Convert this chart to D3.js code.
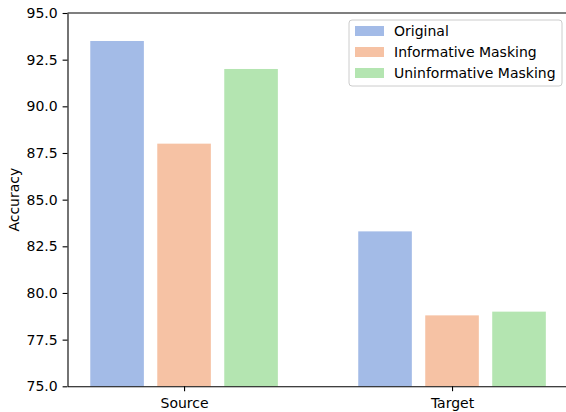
<!DOCTYPE html>
<html>
<head>
<meta charset="utf-8">
<script src="https://cdn.jsdelivr.net/npm/d3@7/dist/d3.min.js"></script>
<style>
  html, body { margin: 0; padding: 0; background: #fff; }
  svg { display: block; font-family: "DejaVu Sans", sans-serif; }
</style>
</head>
<body>
<svg id="chart" width="566" height="412"></svg>
<script>
// Accuracy per domain for each input variant
const domains = ["Source", "Target"];
const seriesNames = ["Original", "Informative Masking", "Uninformative Masking"];
const original = [93.5, 83.3];
const informativeMasking = [88.0, 78.8];
const uninformativeMasking = [92.0, 79.0];
const yTicks = [75.0, 77.5, 80.0, 82.5, 85.0, 87.5, 90.0, 92.5, 95.0];
const colors = ["#4878d0", "#ee854a", "#6acc64"];

const seriesValues = [original, informativeMasking, uninformativeMasking];

const svg = d3.select("#chart");
const margin = { left: 67.5, top: 13, bottom: 386.3 };
const fontSize = 14;

// Bars sit at group index + offset, width 0.2, spacing 0.25
const barWidth = 0.2;
const offsets = [-0.25, 0, 0.25];
const x = d3.scaleLinear().domain([-0.435, 1.435]).range([margin.left, 568.6]);
const y = d3.scaleLinear().domain([75, 95]).range([margin.bottom, margin.top]);

const bars = [];
seriesValues.forEach((vals, s) => {
  vals.forEach((v, i) => bars.push({ s, i, v }));
});

svg.append("g").selectAll("rect").data(bars).join("rect")
  .attr("x", d => x(d.i + offsets[d.s] - barWidth / 2))
  .attr("width", d => x(d.i + offsets[d.s] + barWidth / 2) - x(d.i + offsets[d.s] - barWidth / 2))
  .attr("y", d => y(d.v))
  .attr("height", d => y(75) - y(d.v))
  .attr("fill", d => colors[d.s])
  .attr("fill-opacity", 0.5);

// Axes
const yAxis = d3.axisLeft(y).tickValues(yTicks).tickFormat(d3.format(".1f"))
  .tickSizeInner(4.9).tickSizeOuter(0).tickPadding(4.9);
const gy = svg.append("g").attr("transform", `translate(${margin.left},0)`).call(yAxis);

const xAxis = d3.axisBottom(x).tickValues([0, 1]).tickFormat(i => domains[i])
  .tickSizeInner(4.9).tickSizeOuter(0).tickPadding(6.5);
const gx = svg.append("g").attr("transform", `translate(0,${margin.bottom})`).call(xAxis);

[gx, gy].forEach(g => {
  g.selectAll("text").attr("font-size", fontSize).attr("font-family", "DejaVu Sans").attr("fill", "#000");
  g.selectAll("line").attr("stroke", "#000").attr("stroke-width", 1.1);
  g.select(".domain").attr("stroke", "#000").attr("stroke-width", 1.1);
});

// Top and right spines
svg.append("line")
  .attr("x1", margin.left).attr("x2", x(1.435))
  .attr("y1", margin.top).attr("y2", margin.top)
  .attr("stroke", "#000").attr("stroke-width", 1.1);
svg.append("line")
  .attr("x1", x(1.435)).attr("x2", x(1.435))
  .attr("y1", margin.top).attr("y2", margin.bottom)
  .attr("stroke", "#000").attr("stroke-width", 1.1);

// Y axis title
svg.append("text")
  .attr("transform", `translate(19,${(margin.top + margin.bottom) / 2}) rotate(-90)`)
  .attr("text-anchor", "middle")
  .attr("font-size", fontSize)
  .attr("fill", "#000")
  .text("Accuracy");

// Legend
const legend = svg.append("g").attr("transform", "translate(349,20)");
legend.append("rect")
  .attr("x", 0).attr("y", 0).attr("width", 213).attr("height", 66)
  .attr("rx", 3).attr("ry", 3)
  .attr("fill", "#fff").attr("fill-opacity", 0.8)
  .attr("stroke", "#cccccc").attr("stroke-width", 1);
const items = legend.selectAll("g.item").data(seriesNames).join("g")
  .attr("class", "item")
  .attr("transform", (d, i) => `translate(0,${11 + i * 21})`);
items.append("rect")
  .attr("x", 6).attr("y", -5).attr("width", 29).attr("height", 10)
  .attr("fill", (d, i) => colors[i]).attr("fill-opacity", 0.5);
items.append("text")
  .attr("x", 45).attr("y", 0).attr("dy", "0.35em")
  .attr("font-size", fontSize).attr("fill", "#000")
  .text(d => d);
</script>
</body>
</html>
